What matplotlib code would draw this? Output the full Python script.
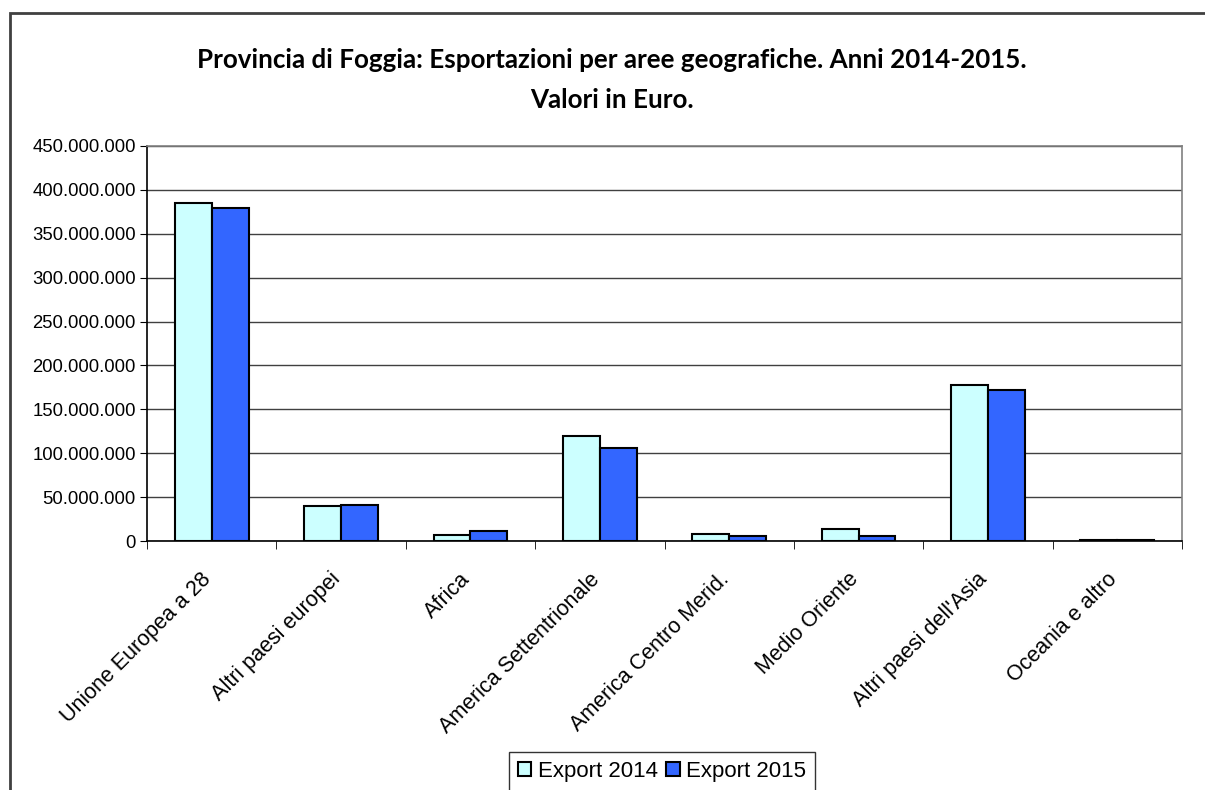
import numpy as np
import matplotlib.pyplot as plt
from matplotlib.patches import Rectangle
from matplotlib.ticker import FuncFormatter
from matplotlib.transforms import ScaledTranslation

aree = ['Unione Europea a 28', 'Altri paesi europei', 'Africa',
        'America Settentrionale', 'America Centro Merid.', 'Medio Oriente',
        "Altri paesi dell'Asia", 'Oceania e altro']
export_2014 = [385.0e6, 39.5e6, 7.3e6, 120.0e6, 7.6e6, 13.8e6, 178.0e6, 1.5e6]
export_2015 = [379.0e6, 41.3e6, 11.5e6, 105.8e6, 5.3e6, 5.3e6, 172.0e6, 1.3e6]
y_ticks = np.arange(0, 450e6 + 1, 50e6)

plt.rcParams['font.family'] = ['Liberation Sans', 'DejaVu Sans']

fig = plt.figure(figsize=(12.05, 7.9), dpi=100)
ax = fig.add_axes([147/1205, 1-541/790, 1035/1205, 395/790])

x = np.arange(len(aree))
w = 0.285
ax.bar(x - w/2, export_2014, w, color='#CCFFFF', edgecolor='black',
       linewidth=1.5, label='Export 2014', zorder=3)
ax.bar(x + w/2, export_2015, w, color='#3366FF', edgecolor='black',
       linewidth=1.5, label='Export 2015', zorder=3)

ax.set_xlim(-0.5, len(aree) - 0.5)
ax.set_ylim(0, 450e6)
ax.set_yticks(y_ticks)
ax.yaxis.set_major_formatter(FuncFormatter(lambda v, p: f'{int(v):,}'.replace(',', '.')))
ax.tick_params(axis='y', labelsize=13.3, length=5, direction='out', pad=3)
ax.grid(axis='y', color='#404040', linewidth=1, zorder=0)

ax.set_xticks(x)
ax.set_xticklabels(aree, rotation=45, ha='right', va='top',
                   rotation_mode='anchor', fontsize=15.5)
ax.tick_params(axis='x', which='major', length=0, pad=20)
ax.set_xticks(np.arange(-0.5, len(aree)), minor=True)
ax.tick_params(axis='x', which='minor', length=6, direction='out')
shift = ScaledTranslation(-0.11, 0, fig.dpi_scale_trans)
for lbl in ax.get_xticklabels():
    lbl.set_transform(lbl.get_transform() + shift)

for s in ['left', 'bottom']:
    ax.spines[s].set_color('black')
    ax.spines[s].set_linewidth(1.2)
for s in ['top', 'right']:
    ax.spines[s].set_color('#808080')
    ax.spines[s].set_linewidth(1.2)

fig.text(612/1205, 1-60/790, 'Provincia di Foggia: Esportazioni per aree geografiche. Anni 2014-2015.',
         ha='center', va='center', fontsize=18.7, fontweight='bold', family='Lato')
fig.text(612/1205, 1-100/790, 'Valori in Euro.',
         ha='center', va='center', fontsize=18.7, fontweight='bold', family='Lato')

leg = fig.legend(loc='upper center', bbox_to_anchor=(662/1205, 1-752/790), ncol=2,
                 fontsize=16, frameon=True, fancybox=False, edgecolor='black',
                 handlelength=0.6, handleheight=0.6, handletextpad=0.3,
                 columnspacing=0.4, borderpad=0.4, borderaxespad=0)
leg.get_frame().set_linewidth(1)

fig.patches.append(Rectangle((10/1205, -0.1), 1.2, 1 - 13/790 + 0.1,
                             transform=fig.transFigure, fill=False,
                             edgecolor='#404040', linewidth=2))

fig.savefig('out.png', dpi=100)
